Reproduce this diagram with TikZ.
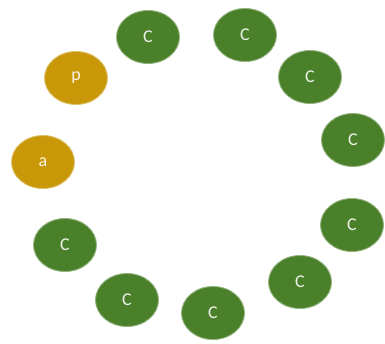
\documentclass[tikz,border=0pt]{standalone}
\usepackage{fontspec}
\setmainfont{Carlito}
\usetikzlibrary{shapes.geometric}
\definecolor{leaf}{HTML}{4A8029}
\definecolor{amber}{HTML}{C89808}
\begin{document}
\begin{tikzpicture}[x=1pt,y=-1pt,font=\fontsize{18}{21}\selectfont,
 bead/.style={ellipse,minimum width=63pt,minimum height=53pt,inner sep=0pt,text=white!90!#1,fill=#1,draw=#1!60!white,line width=0.9pt}]
\useasboundingbox (0,0) rectangle (385,343);
\node[bead=amber](p) at (76,78){p};
\node[bead=amber](a) at (43,162){a};
\node[bead=leaf](c1) at (148,37){C};
\node[bead=leaf](c2) at (245,35){C};
\node[bead=leaf](c3) at (310,77){C};
\node[bead=leaf](c4) at (353,140){C};
\node[bead=leaf](c5) at (352,225){C};
\node[bead=leaf](c6) at (300,282){C};
\node[bead=leaf](c7) at (213,313){C};
\node[bead=leaf](c8) at (127,300){C};
\node[bead=leaf](c9) at (65,245){C};
\end{tikzpicture}
\end{document}
